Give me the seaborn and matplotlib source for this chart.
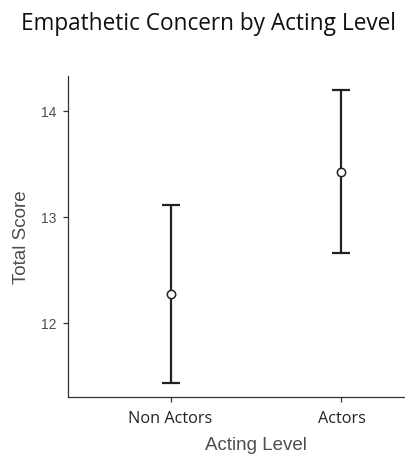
import matplotlib
matplotlib.use("Agg")
import matplotlib.pyplot as plt
import seaborn as sns
import pandas as pd
import numpy as np

categories = ["Non Actors", "Actors"]
means = [12.27, 13.42]
lower = [11.43, 12.66]
upper = [13.11, 14.20]
yticks = [12, 13, 14]

df = pd.DataFrame({"Acting Level": categories, "Total Score": means})

sns.set_theme(style="ticks")
plt.rcParams['font.family'] = ['Liberation Sans', 'DejaVu Sans']

fig = plt.figure(figsize=(4.06, 4.56), dpi=100)
W, H = 406, 456
left, right, bottom, top = 68, 444, 398, 77
ax = fig.add_axes([left / W, 1 - bottom / H, (right - left) / W, (bottom - top) / H])

x = np.arange(len(categories))
ax.errorbar(x, means,
            yerr=[np.array(means) - np.array(lower), np.array(upper) - np.array(means)],
            fmt="none", ecolor="#222222", elinewidth=1.6, capsize=6.2, capthick=1.6, zorder=2)
sns.pointplot(data=df, x="Acting Level", y="Total Score", order=categories,
              linestyle="none", errorbar=None, marker="o", markersize=6,
              color="white", markeredgecolor="#222222", markeredgewidth=1.1,
              ax=ax, zorder=3)

ax.set_xlim(-0.6, 1.6)
ax.set_ylim(11.30, 14.33)
ax.set_yticks(yticks)
ax.set_yticklabels([str(t) for t in yticks])
sns.despine(ax=ax)
for s in ["left", "bottom"]:
    ax.spines[s].set_color("#333333")
    ax.spines[s].set_linewidth(0.9)
ax.tick_params(axis="both", direction="out", length=3.5, width=0.9, color="#333333")
ax.tick_params(axis="y", labelsize=10, labelcolor="#4d4d4d", pad=5)
ax.tick_params(axis="x", labelsize=11.7, labelcolor="#222222", pad=6)
for lab in ax.get_xticklabels():
    lab.set_fontfamily(["Open Sans", "DejaVu Sans"])

ax.set_xlabel("Acting Level", fontsize=13.5, color="#4d4d4d", labelpad=7)
ax.set_ylabel("Total Score", fontsize=13.5, color="#4d4d4d", labelpad=8)

fig.text(209 / W, 1 - 24 / H, "Empathetic Concern by Acting Level",
         ha="center", va="center", fontsize=16.3, color="#111111",
         family=["Open Sans", "DejaVu Sans"])

fig.savefig("out.png", dpi=100, facecolor="white")
